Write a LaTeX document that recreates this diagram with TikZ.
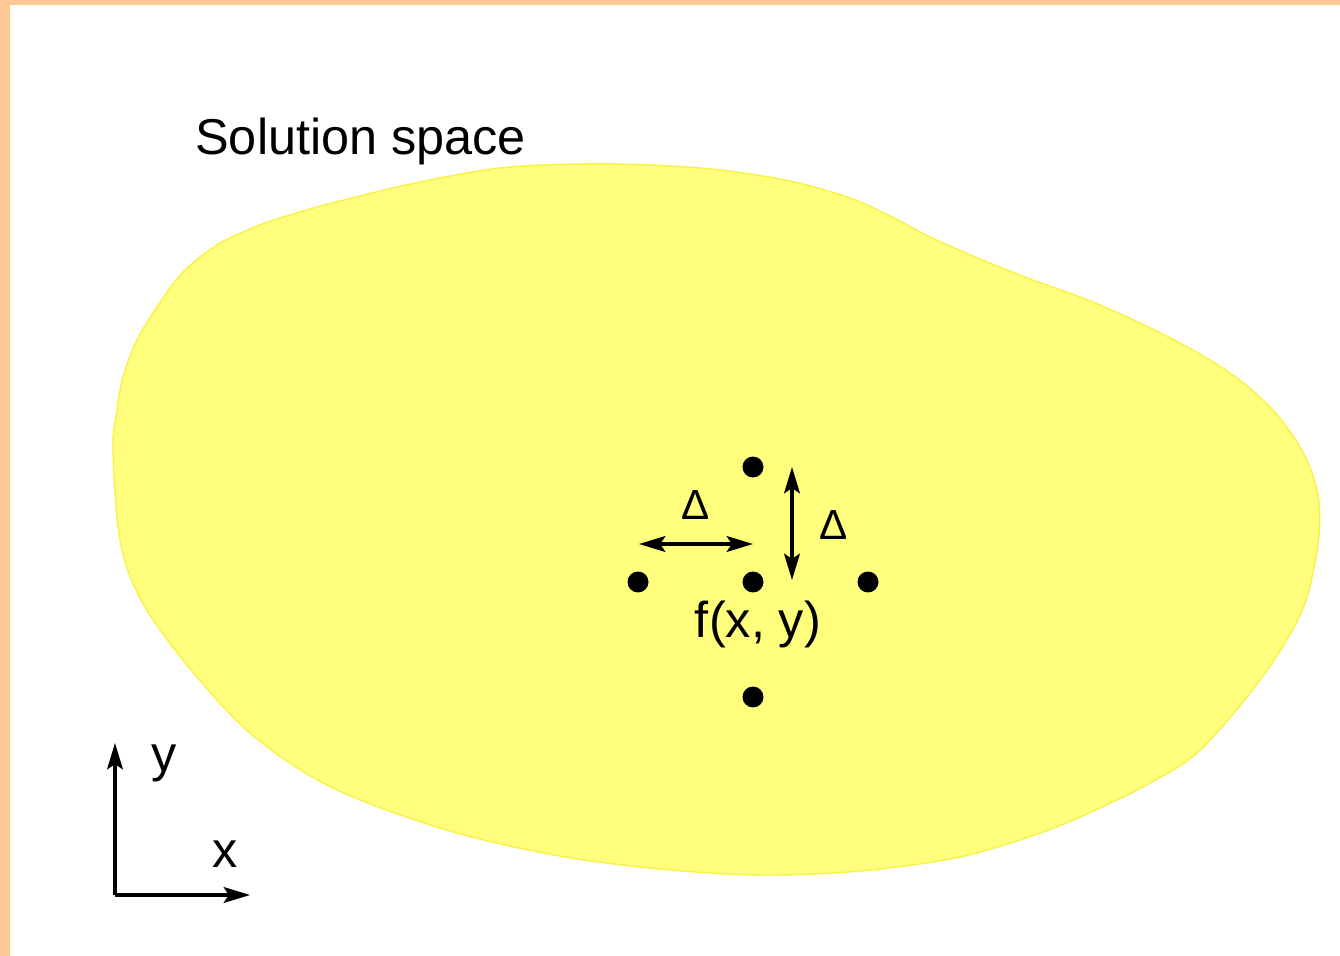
\documentclass[tikz,border=0pt]{standalone}
\usepackage{fontspec}
\setmainfont{Liberation Sans}
\usetikzlibrary{arrows.meta}
\definecolor{frameorange}{RGB}{255,200,150}
\definecolor{spaceyellow}{RGB}{255,255,125}
\definecolor{spaceedge}{RGB}{248,242,70}

\begin{document}
\begin{tikzpicture}[x=0.02cm, y=-0.02cm, font=\fontsize{28.7}{34}\selectfont,
  dot/.style={circle, fill=black, inner sep=0pt, minimum size=0.42cm},
  tip/.style={-{Stealth[length=15pt, width=9pt, inset=3pt]}},
  both/.style={{Stealth[length=15pt, width=9pt, inset=3pt]}-{Stealth[length=15pt, width=9pt, inset=3pt]}},
  link/.style={line width=1.8pt}]
\useasboundingbox (0,0) rectangle (1340,956);
% Frame
\fill[frameorange] (0,0) rectangle (1340,956);
\fill[white] (10,5) rectangle (1340,956);

% Solution space
\fill[spaceyellow, draw=spaceedge, line width=0.8pt] plot[smooth cycle, tension=0.55] coordinates {
  (113,450) (117,410) (123,377) (137,340) (157,307) (183,272) (217,245) (250,229)
  (283,217) (340,201) (420,182) (500,168) (580,164) (650,165) (720,170) (790,181)
  (850,198) (890,216) (930,237) (980,259) (1030,279) (1080,297) (1125,316) (1180,343)
  (1230,373) (1270,407) (1300,447) (1317,490) (1319,535) (1307,597) (1285,643) (1247,697)
  (1197,753) (1150,783) (1100,808) (1043,832) (960,857) (860,871) (760,875) (660,869)
  (560,856) (450,831) (333,788) (250,733) (183,660) (140,598) (120,540)};
\node[anchor=base west, inner sep=0pt] (title) at (195,155) {Solution space};

% Neighbourhood
\node[dot] (ctr) at (753,582) {};
\node[dot] (up) at (753,467) {};
\node[dot] (dn) at (753,697) {};
\node[dot] (lft) at (638,582) {};
\node[dot] (rgt) at (868,582) {};
\node[anchor=base, inner sep=0pt] (fxy) at (758,637) {f(x, y)};

\coordinate (hl) at (639,544);
\coordinate (hr) at (753,544);
\coordinate (vt) at (792,467);
\coordinate (vb) at (792,580);
\draw[link, both] (hl) -- (hr);
\draw[link, both] (vt) -- (vb);
\node[anchor=base, inner sep=0pt, font=\fontsize{24}{28}\selectfont] (dh) at (696,520) {Δ};
\node[anchor=base, inner sep=0pt, font=\fontsize{24}{28}\selectfont] (dv) at (834,540) {Δ};

% Axes
\coordinate (org) at (115,895);
\coordinate (ytip) at (115,743);
\coordinate (xtip) at (250,895);
\draw[link, tip] (org) -- (ytip);
\draw[link, tip] (org) -- (xtip);
\node[anchor=base, inner sep=0pt] (ylab) at (164,771) {y};
\node[anchor=base, inner sep=0pt] (xlab) at (225,867) {x};
\end{tikzpicture}
\end{document}
